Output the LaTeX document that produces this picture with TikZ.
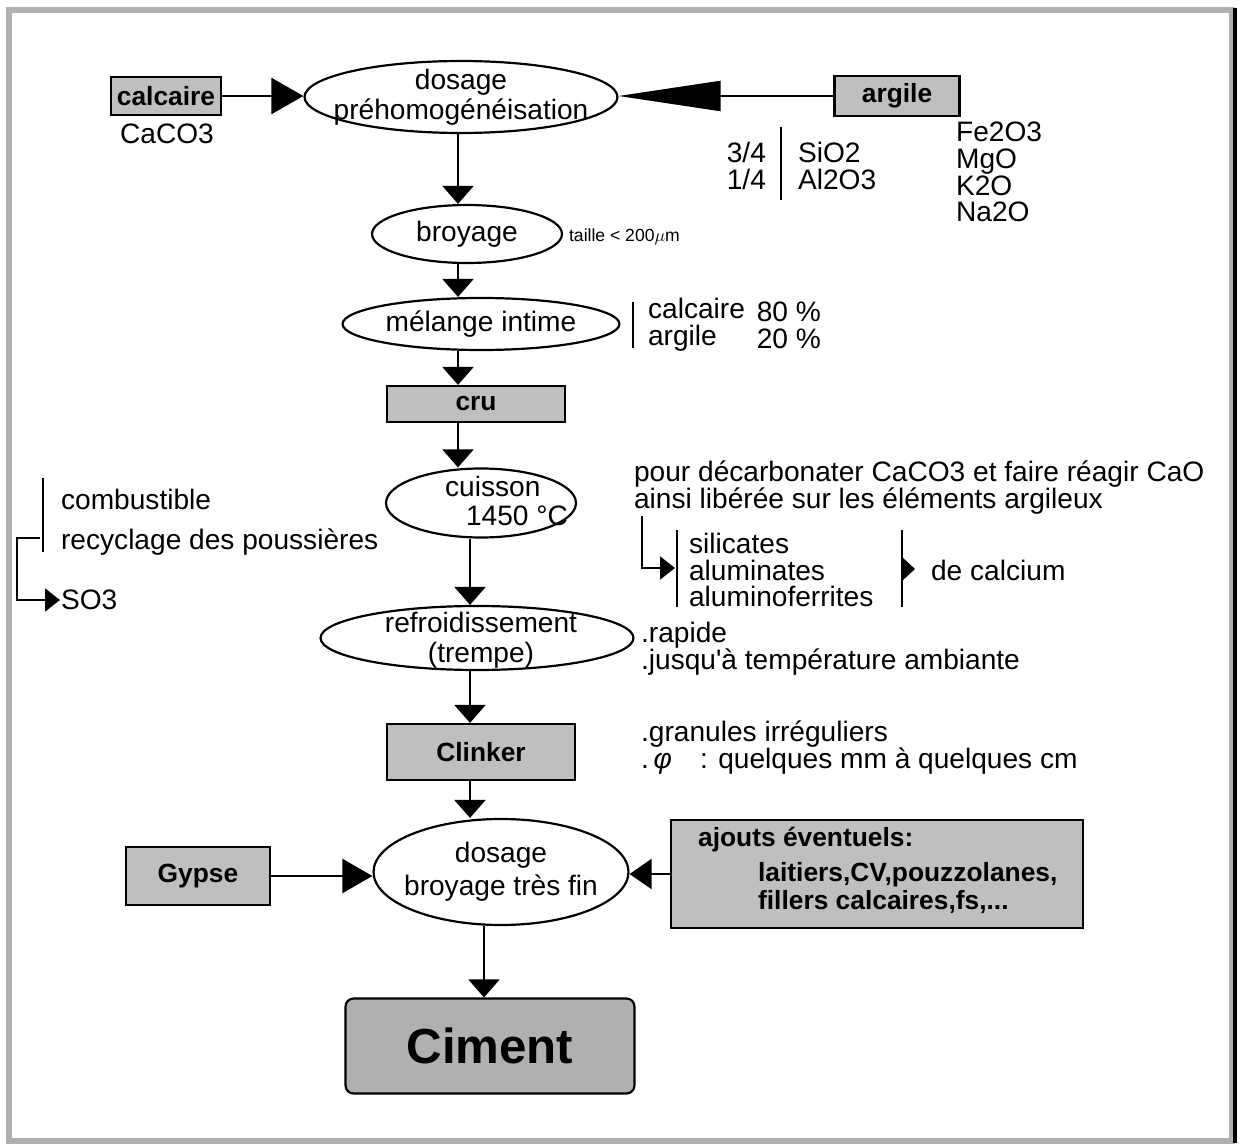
\documentclass[tikz,border=0pt]{standalone}
\usepackage{fontspec}
\setmainfont{Liberation Sans}
\usetikzlibrary{arrows.meta,shapes.geometric}
\def\px{0.02cm}
\def\serre{\lineskiplimit=-20pt\relax}

\begin{document}
\begin{tikzpicture}[x=\px,y=-\px,line width=1.25pt,
    font=\fontsize{16}{17}\selectfont]
    \tikzstyle{etape}=[ellipse,draw,inner sep=0pt]
    \tikzstyle{produit}=[rectangle,draw,fill=gray!50,inner sep=0pt,
        font=\fontsize{15}{17}\selectfont\bfseries]
    \tikzstyle{texte}=[inner sep=0pt,align=center]
    \tikzstyle{annot}=[inner sep=0pt,anchor=west]
    \tikzstyle{pile}=[annot,align=left,font=\fontsize{16}{15.3}\selectfont\serre]
    \tikzstyle{trait}=[line width=1.5pt]
    \tikzstyle{flux}=[-{Triangle[length=0.36cm,width=0.62cm]}]
    \tikzstyle{petitflux}=[-{Triangle[length=0.3cm,width=0.46cm]}]

    \useasboundingbox (0,0) rectangle (1241,1145);

    % Draw the frame
    \draw[line width=0.12cm,gray!62] (9,10) rectangle (1232,1141);
    \draw[line width=0.08cm] (1235,8) -- (1235,1143);

    % Raw materials and first step
    \node[produit,minimum width=2.2cm,minimum height=0.76cm] (calcaire) at (166,96) {calcaire};
    \node[texte] (caco3) at (167,134) {CaCO3};
    \node[etape,minimum width=6.26cm,minimum height=1.44cm] (dosage) at (461,97) {};
    \node[texte] (dosage-t) at (dosage) {dosage\\préhomogénéisation};
    \node[produit,minimum width=2.5cm,minimum height=0.8cm] (argile) at (897,96) {argile};

    \draw[-{Triangle[length=0.64cm,width=0.72cm]}] (calcaire.east) -- (calcaire.east -| dosage.west);
    \draw[-{Triangle[length=2.04cm,width=0.6cm]}] (argile.west) -- (argile.west -| dosage.east);

    % Composition of the clay
    \node[pile,anchor=east,align=right] (fractions) at (767,166) {3/4\\1/4};
    \node[pile] (oxydes) at (797,166) {SiO2\\Al2O3};
    \draw[trait] (781,127) -- (781,200);
    \node[pile] (autres) at (955,172) {Fe2O3\\MgO\\K2O\\Na2O};

    % Grinding and mixing
    \node[etape,minimum width=3.8cm,minimum height=1.16cm] (broyage) at (467,234) {};
    \node[texte] (broyage-t) at (broyage) {broyage};
    \node[annot,font=\fontsize{10}{11}\selectfont] (taille) at (568,237) {taille < 200$\mu$m};

    \node[etape,minimum width=5.54cm,minimum height=1.04cm] (melange) at (481,324) {};
    \node[texte] (melange-t) at (melange) {mélange intime};
    \draw[trait] (633,302) -- (633,348);
    \node[pile] (dosages) at (647,325) {calcaire\\argile};
    \node[pile,anchor=east,align=right] (pourcents) at (822,325) {80 \%\\20 \%};

    \node[produit,minimum width=3.56cm,minimum height=0.72cm] (cru) at (476,404) {cru};

    % Burning
    \node[etape,minimum width=3.8cm,minimum height=1.38cm] (cuisson) at (481,503) {};
    \node[texte,align=left,anchor=west] (cuisson-t) at (444,501) {cuisson\\\hspace*{0.42cm}1450 °C};

    \node[pile] (decarb) at (633,488)
        {pour décarbonater CaCO3 et faire réagir CaO\\ainsi libérée sur les éléments argileux};
    \coordinate (depart) at (642,516);
    \coordinate (arrivee) at (675,568);
    \draw[petitflux] (depart) |- (arrivee);
    \draw[trait] (677,530) -- (677,607);
    \node[pile] (composes) at (688,570) {silicates\\aluminates\\aluminoferrites};
    \draw[trait] (902,530) -- (902,607);
    \fill (902,557) -- (915,569) -- (902,581) -- cycle;
    \node[annot] (calcium) at (930,570) {de calcium};

    \draw[trait] (43,478) -- (43,552);
    \node[annot] (combustible) at (60,499) {combustible};
    \node[annot] (recyclage) at (60,542) {recyclage des poussières};
    \node[annot] (so3) at (60,600) {SO3};
    \coordinate (combu) at (40,538);
    \draw[petitflux] (combu) -- ++(-23,0) |- (so3.west);

    % Cooling
    \node[etape,minimum width=6.26cm,minimum height=1.28cm] (refroid) at (477,638) {};
    \node[texte] (refroid-t) at (481,640) {refroidissement\\(trempe)};
    \node[pile] (trempe) at (640,649) {.rapide\\.jusqu\textquotesingle à température ambiante};

    \node[produit,minimum width=3.76cm,minimum height=1.12cm] (clinker) at (481,752) {Clinker};
    \node[pile] (granules) at (640,748) {.granules irréguliers\\.\,{\itshape φ}\quad: quelques mm à quelques cm};

    % Final grinding
    \node[etape,minimum width=5.1cm,minimum height=2.12cm] (broyagefin) at (501,872) {};
    \node[texte] (broyagefin-t) at (broyagefin) {dosage\\[2pt]broyage très fin};
    \node[produit,minimum width=2.88cm,minimum height=1.16cm] (gypse) at (198,876) {Gypse};
    \node[produit,minimum width=8.24cm,minimum height=2.16cm] (ajouts) at (877,874) {};
    \node[annot,font=\fontsize{15}{17}\selectfont\bfseries] (ajouts-t) at (697,840) {ajouts éventuels:};
    \node[annot,align=left,font=\fontsize{15}{16}\selectfont\bfseries] (ajouts-l) at (757,888)
        {laitiers,CV,pouzzolanes,\\fillers calcaires,fs,...};

    \draw[-{Triangle[length=0.6cm,width=0.68cm]}] (gypse.east) -- (gypse.east -| broyagefin.west);
    \draw[-{Triangle[length=0.44cm,width=0.6cm]}] (ajouts.west) -- (ajouts.west -| broyagefin.east);

    \node[produit,rounded corners=0.16cm,fill=gray!62,minimum width=5.78cm,minimum height=1.9cm,
        font=\fontsize{28}{30}\selectfont\bfseries] (ciment) at (490,1046) {Ciment};

    % Connect the steps along the main line
    \coordinate (axeA) at (458,0);
    \coordinate (axeB) at (470,0);
    \coordinate (axeC) at (484,0);
    \draw[flux] (dosage.south -| axeA) -- (broyage.north -| axeA);
    \draw[flux] (broyage.south -| axeA) -- (melange.north -| axeA);
    \draw[flux] (melange.south -| axeA) -- (cru.north -| axeA);
    \draw[flux] (cru.south -| axeA) -- (cuisson.north -| axeA);
    \draw[flux] (cuisson.south -| axeB) -- (refroid.north -| axeB);
    \draw[flux] (refroid.south -| axeB) -- (clinker.north -| axeB);
    \draw[flux] (clinker.south -| axeB) -- (broyagefin.north -| axeB);
    \draw[flux] (broyagefin.south -| axeC) -- (ciment.north -| axeC);
\end{tikzpicture}
\end{document}
